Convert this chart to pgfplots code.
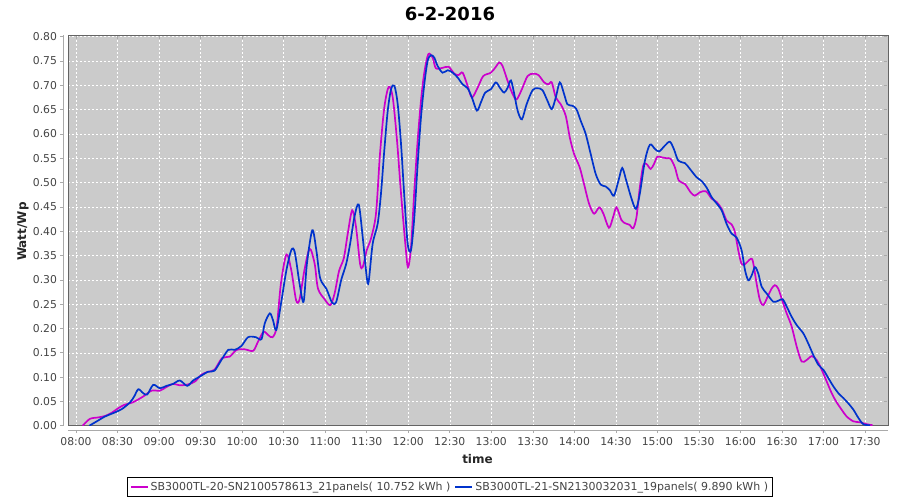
\documentclass[border=0pt]{standalone}
\usepackage{fontspec}
\setmainfont{DejaVu Sans}
\usepackage{pgfplots}
\pgfplotsset{compat=1.18}
\definecolor{bgc}{RGB}{203,203,203}
\definecolor{magc}{RGB}{204,0,204}
\definecolor{bluec}{RGB}{0,51,204}
\definecolor{tickc}{RGB}{68,68,68}
\definecolor{framec}{RGB}{100,100,100}
\definecolor{axc}{RGB}{170,170,170}
\begin{document}
\begin{tikzpicture}
\path[use as bounding box] (-68pt,-74.3pt) rectangle (832pt,425.7pt);
\begin{axis}[
  at={(0pt,0pt)}, anchor=south west,
  scale only axis, width=820pt, height=390.7pt,
  xmin=-5.8, xmax=586.6, ymin=0, ymax=0.8035,
  axis background/.style={fill=bgc},
  axis line style={draw=framec, line width=0.8pt},
  xtick={0,30,...,570},
  xticklabels={08:00,08:30,09:00,09:30,10:00,10:30,11:00,11:30,12:00,12:30,13:00,13:30,14:00,14:30,15:00,15:30,16:00,16:30,17:00,17:30},
  ytick={0,0.05,...,0.81},
  /pgf/number format/assume math mode=true,
  /pgf/number format/fixed,
  /pgf/number format/fixed zerofill,
  /pgf/number format/precision=2,
  tick label style={font=\fontsize{10.8}{13}\selectfont, text=tickc},
  xticklabel style={yshift=-5pt},
  yticklabel style={xshift=-4.5pt},
  tick align=outside, major tick length=3pt,
  xtick style={draw=axc, line width=0.6pt, yshift=-4.5pt},
  ytick style={draw=axc, line width=0.6pt, xshift=-4.5pt},
  grid=major,
  major grid style={draw=white, line width=0.5pt, dash pattern=on 2pt off 2pt},
  legend columns=2,
  legend style={at={(0.4659,-0.157)}, anchor=center, draw=black, line width=0.6pt,
    font=\fontsize{11}{13}\selectfont, text=tickc, inner sep=2.5pt,
    /tikz/every even column/.append style={column sep=2pt}},
  legend image code/.code={\draw[#1, line width=1.8pt] (0pt,0pt) -- (17pt,0pt);},
  after end axis/.code={
    \draw[axc, line width=0.6pt] ([xshift=-4.5pt]rel axis cs:0,0) -- ([xshift=-4.5pt]rel axis cs:0,1);
    \draw[axc, line width=0.6pt] ([yshift=-4.5pt]rel axis cs:0,0) -- ([yshift=-4.5pt]rel axis cs:1,0);
  },
]
\addplot[magc, line width=1.7pt, smooth] coordinates {
(4.8,0) (10,0.014) (16,0.017) (21,0.02) (26,0.027) (30.5,0.036) (35,0.043) (41,0.048) (48.5,0.06) (54.5,0.072) (60.5,0.072) (65,0.079) (70,0.086) (75,0.083) (81,0.085) (86,0.091) (90.6,0.105) (95.4,0.111) (100,0.115) (105.5,0.139) (111,0.142) (116,0.156) (122,0.157) (128,0.154) (131.5,0.173) (135.5,0.193) (139,0.186) (142,0.182) (145,0.204) (148,0.292) (152,0.352) (155.5,0.32) (159,0.258) (161.5,0.26) (165,0.32) (168.8,0.364) (172.4,0.333) (174.8,0.282) (179.6,0.26) (183.7,0.248) (186.8,0.272) (190,0.318) (193.5,0.345) (196.3,0.395) (199.5,0.443) (202.3,0.408) (205.2,0.333) (207.1,0.326) (210,0.361) (213.1,0.385) (216.7,0.436) (219.6,0.559) (222.7,0.654) (225.9,0.697) (228.8,0.675) (231.9,0.586) (234.8,0.477) (237.9,0.374) (239.8,0.326) (242,0.367) (244.4,0.484) (246.8,0.586) (249.2,0.668) (251.6,0.726) (254.5,0.764) (257.6,0.757) (260,0.735) (264.8,0.736) (269.2,0.738) (273.3,0.724) (276.4,0.721) (279.3,0.726) (282.9,0.699) (286,0.675) (290.1,0.695) (294.2,0.719) (299.7,0.726) (303.3,0.738) (305.7,0.747) (308.1,0.74) (311.8,0.709) (315.4,0.682) (318.3,0.671) (322.1,0.692) (326.2,0.719) (330.3,0.724) (334.1,0.721) (338.2,0.706) (341.3,0.702) (343.7,0.706) (346.6,0.675) (350.2,0.661) (353.8,0.637) (356.7,0.593) (359.8,0.559) (363.9,0.531) (367,0.497) (370.7,0.456) (374.3,0.436) (378,0.449) (381,0.436) (385,0.407) (388,0.429) (390.5,0.449) (394,0.423) (397,0.416) (400,0.413) (402.5,0.406) (404.9,0.429) (407.3,0.49) (409.8,0.535) (412.2,0.538) (415.1,0.528) (417.5,0.538) (419.9,0.553) (423,0.552) (426.6,0.55) (429.5,0.549) (432.7,0.531) (435.5,0.504) (439.9,0.497) (444,0.48) (447.1,0.473) (450.7,0.48) (455.1,0.482) (459.2,0.467) (462.8,0.46) (466.4,0.446) (470,0.422) (473.6,0.414) (476,0.398) (478.4,0.361) (480.8,0.333) (483.3,0.332) (486.4,0.341) (488.8,0.34) (491.7,0.292) (494.1,0.258) (496.5,0.248) (500.1,0.268) (502.5,0.282) (504.9,0.289) (507.3,0.282) (510.5,0.255) (513.4,0.231) (517,0.204) (520.6,0.163) (524.2,0.132) (527.8,0.135) (531.5,0.143) (535.1,0.135) (538.7,0.115) (542.3,0.091) (545.9,0.067) (549.5,0.048) (553.1,0.033) (556.7,0.019) (561.6,0.009) (566.4,0.007) (571.2,0.003) (575.5,0.001)
};
\addlegendentry{SB3000TL-20-SN2100578613\_21panels( 10.752 kWh )}
\addplot[bluec, line width=1.7pt, smooth] coordinates {
(9.6,0) (15,0.009) (21,0.019) (27,0.026) (33,0.034) (39,0.048) (42,0.06) (45,0.075) (48.5,0.067) (51.4,0.064) (55.8,0.084) (60.6,0.077) (65.4,0.082) (70.2,0.086) (75,0.093) (80.3,0.082) (84.6,0.093) (89.4,0.101) (95.4,0.111) (100,0.113) (105,0.135) (110,0.156) (114.7,0.156) (119.5,0.164) (124.3,0.182) (130,0.182) (134,0.178) (136.3,0.21) (140,0.231) (142.3,0.217) (144.7,0.197) (148.3,0.255) (152,0.32) (155.5,0.361) (158,0.357) (161.5,0.292) (164.4,0.255) (166.8,0.333) (170.7,0.402) (173.6,0.361) (176.4,0.303) (180.8,0.282) (185,0.253) (188,0.255) (191.6,0.30) (195.2,0.333) (198,0.374) (201.1,0.429) (204.2,0.455) (207.1,0.388) (210,0.306) (211.4,0.296) (214.3,0.374) (217.9,0.415) (220.3,0.477) (222.7,0.566) (225.2,0.648) (227.6,0.692) (230,0.699) (232.4,0.661) (234.8,0.579) (237.2,0.47) (239.6,0.374) (242,0.361) (244.4,0.429) (246.8,0.538) (249.2,0.634) (251.6,0.702) (254,0.75) (256.4,0.762) (258.8,0.757) (261.2,0.74) (264.8,0.726) (268.5,0.731) (272.1,0.726) (275.7,0.716) (279.3,0.702) (282.9,0.694) (286,0.675) (289.6,0.648) (292.5,0.665) (295.6,0.685) (299.7,0.692) (303.3,0.706) (306.2,0.695) (309.3,0.685) (311.8,0.695) (314.2,0.71) (316.6,0.682) (319,0.648) (322.1,0.63) (325.5,0.661) (329.8,0.69) (333.4,0.694) (337,0.69) (340.6,0.668) (343.7,0.651) (346.6,0.675) (349.5,0.706) (352.6,0.682) (355,0.661) (358.6,0.658) (361.5,0.651) (364.6,0.627) (368.2,0.6) (371.8,0.559) (375.4,0.518) (379,0.496) (382.6,0.492) (385.7,0.484) (388.6,0.473) (391.9,0.504) (394.6,0.53) (397.5,0.504) (401.3,0.467) (404.5,0.446) (407.3,0.477) (411,0.545) (414.6,0.578) (418.3,0.569) (421.3,0.564) (425.4,0.576) (429,0.584) (431.9,0.569) (435.1,0.545) (439.9,0.54) (443.5,0.528) (448.3,0.511) (452,0.503) (455.5,0.49) (459.2,0.47) (462.8,0.457) (466.4,0.443) (470,0.415) (473.6,0.395) (477.2,0.387) (480.8,0.361) (483.3,0.32) (485.7,0.299) (488.1,0.309) (490.5,0.326) (492.9,0.313) (495.3,0.286) (498.9,0.272) (503.7,0.255) (507.3,0.257) (510.5,0.26) (513.4,0.245) (517,0.224) (520.6,0.207) (525.4,0.19) (529,0.169) (532.7,0.145) (536.3,0.125) (539.9,0.115) (543.5,0.098) (547.1,0.081) (550.7,0.067) (554.3,0.057) (557.9,0.046) (561.6,0.033) (565.2,0.016) (568.8,0.003) (573.6,0.001)
};
\addlegendentry{SB3000TL-21-SN2130032031\_19panels( 9.890 kWh )}
\end{axis}
\node[font=\bfseries\fontsize{18}{20}\selectfont] at (382pt,412pt) {6-2-2016};
\node[font=\bfseries\fontsize{12}{14}\selectfont, text=black!85] at (409.5pt,-33.3pt) {time};
\node[font=\bfseries\fontsize{12}{14}\selectfont, text=black!85, rotate=90] at (-45pt,194pt) {Watt/Wp};
\end{tikzpicture}
\end{document}
